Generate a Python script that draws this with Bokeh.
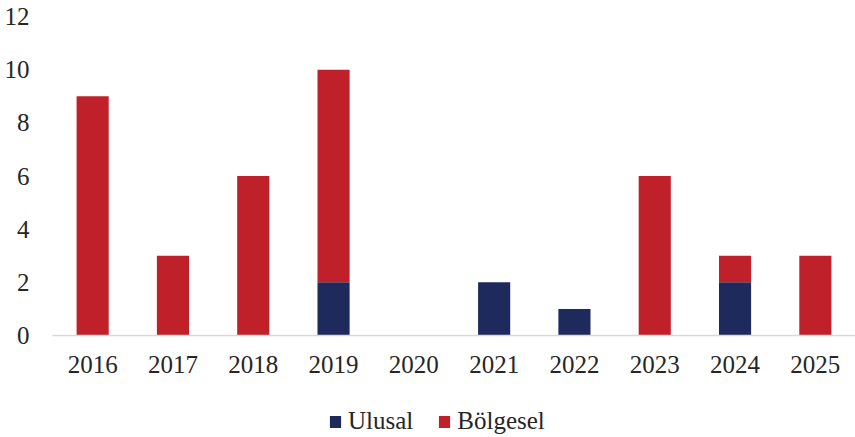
from bokeh.plotting import figure
from bokeh.models import FactorRange, Range1d, Legend, LegendItem, ColumnDataSource
from bokeh.layouts import column
from bokeh.embed import file_html
from bokeh.resources import INLINE

years = ["2016", "2017", "2018", "2019", "2020", "2021", "2022", "2023", "2024", "2025"]
ulusal = [0, 0, 0, 2, 0, 2, 1, 0, 2, 0]
bolgesel = [9, 3, 6, 8, 0, 0, 0, 6, 1, 3]
y_ticks = [0, 2, 4, 6, 8, 10, 12]
series = ["Ulusal", "Bölgesel"]
colors = ["#1F2A5C", "#C0202A"]

src = ColumnDataSource(dict(year=years, Ulusal=ulusal, Bolgesel=bolgesel))

p = figure(frame_width=803, frame_height=319, x_range=FactorRange(*years, range_padding=0),
           y_range=Range1d(0, 12), output_backend="svg", toolbar_location=None,
           min_border_left=52, min_border_right=0, min_border_top=16, min_border_bottom=55)
p.outline_line_color = None
p.grid.grid_line_color = None

r = p.vbar_stack(["Ulusal", "Bolgesel"], x="year", width=0.4, source=src,
                 color=colors, line_color=None)

font = "Liberation Serif"
p.yaxis.ticker = y_ticks
p.yaxis.axis_line_color = None
p.yaxis.major_tick_line_color = None
p.yaxis.minor_tick_line_color = None
p.yaxis.major_tick_out = 0
p.yaxis.major_tick_in = 0
p.yaxis.minor_tick_out = 0
p.yaxis.major_label_text_font = font
p.yaxis.major_label_text_font_size = "25px"
p.yaxis.major_label_text_color = "#262626"
p.yaxis.major_label_standoff = 23

p.xaxis.axis_line_color = "#D9D9D9"
p.xaxis.axis_line_width = 1.5
p.xaxis.major_tick_line_color = None
p.xaxis.minor_tick_line_color = None
p.xaxis.major_tick_out = 0
p.xaxis.major_tick_in = 0
p.xaxis.major_label_text_font = font
p.xaxis.major_label_text_font_size = "25px"
p.xaxis.major_label_text_color = "#262626"
p.xaxis.major_label_standoff = 20

# legend strip below the chart (its swatches come from zero-size bars)
lf = figure(width=855, height=47, x_range=Range1d(0, 1), y_range=Range1d(0, 1),
            output_backend="svg", toolbar_location=None,
            min_border_left=0, min_border_right=0, min_border_top=0, min_border_bottom=0)
lf.axis.visible = False
lf.grid.grid_line_color = None
lf.outline_line_color = None
dummy = ColumnDataSource(dict(x=[0.5], bottom=[0.5], top=[0.5]))
items = []
for name, c in zip(series, colors):
    rr = lf.vbar(x="x", bottom="bottom", top="top", width=0, source=dummy, color=c, line_color=None)
    items.append(LegendItem(label=name, renderers=[rr]))

legend = Legend(items=items, orientation="horizontal", location=(276, 2),
                label_text_font=font, label_text_font_size="25px", label_text_color="#262626",
                glyph_width=14, glyph_height=15, spacing=24, label_standoff=6,
                border_line_color=None, background_fill_alpha=0, margin=0, padding=0)
lf.add_layout(legend, "center")

open("out.html", "w").write(file_html(column(p, lf, spacing=0), INLINE))
